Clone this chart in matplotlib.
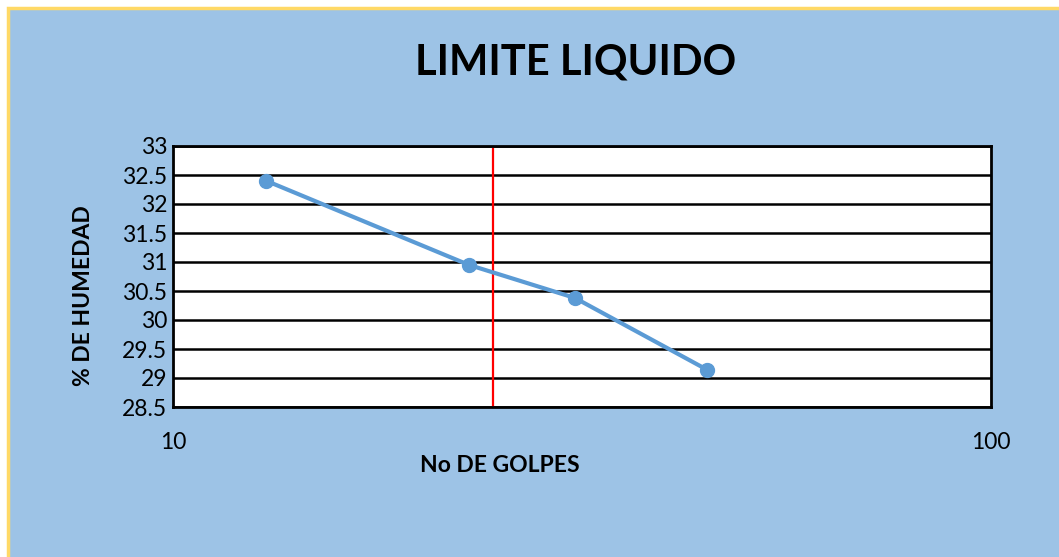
import matplotlib
matplotlib.use("Agg")
import matplotlib.pyplot as plt
from matplotlib.patches import Rectangle
from matplotlib.ticker import FixedLocator, NullLocator

plt.rcParams['font.family'] = ['Lato', 'DejaVu Sans']

# data
golpes = [13, 23, 31, 45]
humedad = [32.4, 30.95, 30.38, 29.14]
linea_25 = 24.6
y_ticks = [28.5, 29, 29.5, 30, 30.5, 31, 31.5, 32, 32.5, 33]
x_ticks = [10, 100]

bg = '#9DC3E6'
azul = '#5B9BD5'

fig = plt.figure(figsize=(10.59, 5.57), dpi=100)
fig.patch.set_facecolor('white')
# chart area, yellow edge shows only at left/top
fig.patches.append(Rectangle((7.5 / 1059, -0.1), 1.2, 1.1 - 8 / 557, transform=fig.transFigure,
                             facecolor=bg, edgecolor='#FFD966', linewidth=2.5, zorder=-1))

ax = fig.add_axes([173 / 1059, 1 - 407 / 557, (991 - 173) / 1059, (407 - 146) / 557])
ax.set_facecolor('white')
ax.set_xscale('log')
ax.set_xlim(10, 100)
ax.set_ylim(28.5, 33)

ax.xaxis.set_major_locator(FixedLocator(x_ticks))
ax.xaxis.set_minor_locator(NullLocator())
ax.set_xticklabels([str(v) for v in x_ticks])
ax.yaxis.set_major_locator(FixedLocator(y_ticks))
ax.set_yticklabels(['%g' % v for v in y_ticks])
ax.tick_params(axis='both', length=0, labelsize=16.5, colors='black')
ax.tick_params(axis='x', pad=18)
ax.tick_params(axis='y', pad=4)

ax.grid(axis='y', color='black', linewidth=1.8)
ax.set_axisbelow(True)
for s in ax.spines.values():
    s.set_linewidth(2)
    s.set_color('black')

ax.axvline(linea_25, color='red', linewidth=1.6, zorder=2)
ax.plot(golpes, humedad, color=azul, linewidth=3, marker='o', markersize=10, zorder=3)

fig.text(576 / 1059, 1 - 63 / 557, 'LIMITE LIQUIDO', ha='center', va='center',
         fontsize=30, fontweight='bold')
fig.text(500 / 1059, 1 - 466 / 557, 'No DE GOLPES', ha='center', va='center',
         fontsize=16.5, fontweight='bold')
fig.text(83 / 1059, 1 - 296 / 557, '% DE HUMEDAD', ha='center', va='center',
         rotation=90, fontsize=16.5, fontweight='bold')

fig.savefig('out.png', dpi=100, facecolor=fig.get_facecolor())
